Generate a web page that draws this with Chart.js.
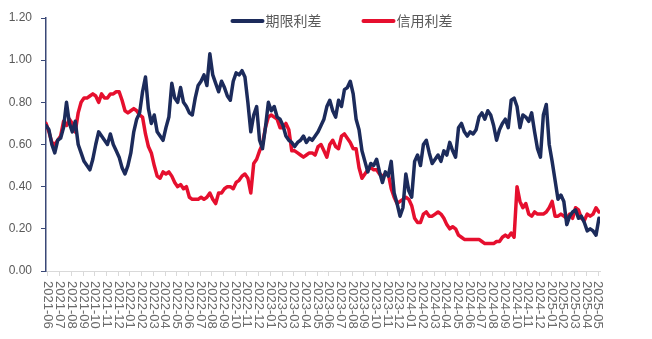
<!DOCTYPE html>
<html>
<head>
<meta charset="utf-8">
<script src="https://cdn.jsdelivr.net/npm/chart.js@4.4.1/dist/chart.umd.min.js"></script>
<style>
  html, body { margin: 0; padding: 0; background: #ffffff; }
  #wrap { width: 652px; height: 339px; }
</style>
</head>
<body>
<div id="wrap"><canvas id="chart" width="652" height="339"></canvas></div>
<script>
// Month tick labels along the bottom axis
const monthLabels = [
  '2021-06','2021-07','2021-08','2021-09','2021-10','2021-11','2021-12',
  '2022-01','2022-02','2022-03','2022-04','2022-05','2022-06','2022-07','2022-08','2022-09','2022-10','2022-11','2022-12',
  '2023-01','2023-02','2023-03','2023-04','2023-05','2023-06','2023-07','2023-08','2023-09','2023-10','2023-11','2023-12',
  '2024-01','2024-02','2024-03','2024-04','2024-05','2024-06','2024-07','2024-08','2024-09','2024-10','2024-11','2024-12',
  '2025-01','2025-02','2025-03','2025-04','2025-05'
];

// Weekly observations (4 per month), first one just before the 2021-06 tick
const firstWeek = -0.17;
const weekStep = 0.25;

// 期限利差 (term spread)
const termSpread = [
  0.69,0.67,0.60,0.56,0.62,0.63,0.68,0.80,0.70,0.66,
  0.71,0.60,0.56,0.52,0.50,0.48,0.53,0.60,0.66,0.64,
  0.62,0.60,0.65,0.60,0.57,0.54,0.49,0.46,0.50,0.56,
  0.66,0.72,0.75,0.85,0.92,0.77,0.70,0.74,0.66,0.64,
  0.62,0.68,0.73,0.89,0.82,0.80,0.87,0.80,0.78,0.75,
  0.74,0.82,0.88,0.90,0.93,0.88,1.03,0.93,0.89,0.85,
  0.90,0.87,0.83,0.81,0.90,0.94,0.93,0.95,0.92,0.80,
  0.66,0.74,0.78,0.62,0.58,0.68,0.80,0.76,0.78,0.73,
  0.72,0.69,0.64,0.62,0.61,0.59,0.61,0.62,0.64,0.61,
  0.63,0.62,0.64,0.66,0.69,0.72,0.78,0.81,0.76,0.73,
  0.81,0.78,0.86,0.87,0.90,0.84,0.72,0.67,0.57,0.52,
  0.47,0.51,0.50,0.53,0.47,0.42,0.47,0.45,0.52,0.37,
  0.32,0.26,0.30,0.46,0.38,0.35,0.52,0.55,0.50,0.60,
  0.62,0.56,0.51,0.53,0.55,0.52,0.57,0.55,0.61,0.57,
  0.54,0.68,0.70,0.66,0.64,0.66,0.65,0.67,0.73,0.75,
  0.72,0.76,0.74,0.69,0.62,0.67,0.70,0.72,0.68,0.81,
  0.82,0.78,0.68,0.74,0.73,0.71,0.75,0.66,0.58,0.54,
  0.74,0.79,0.60,0.52,0.43,0.34,0.36,0.33,0.22,0.26,
  0.28,0.29,0.25,0.26,0.23,0.19,0.20,0.19,0.17,0.25
];

// 信用利差 (credit spread)
const creditSpread = [
  0.70,0.66,0.61,0.60,0.62,0.64,0.71,0.69,0.72,0.70,
  0.66,0.75,0.80,0.82,0.82,0.83,0.84,0.83,0.80,0.84,
  0.82,0.82,0.84,0.84,0.85,0.85,0.81,0.76,0.75,0.76,
  0.77,0.76,0.74,0.73,0.65,0.59,0.56,0.50,0.45,0.44,
  0.47,0.46,0.47,0.45,0.42,0.40,0.41,0.39,0.40,0.35,
  0.34,0.34,0.34,0.35,0.34,0.35,0.37,0.34,0.32,0.37,
  0.37,0.39,0.40,0.40,0.39,0.42,0.43,0.45,0.46,0.44,
  0.37,0.51,0.53,0.57,0.60,0.68,0.73,0.74,0.73,0.72,
  0.68,0.68,0.70,0.67,0.57,0.57,0.56,0.55,0.54,0.55,
  0.56,0.56,0.55,0.59,0.60,0.57,0.54,0.60,0.62,0.59,
  0.58,0.64,0.65,0.63,0.61,0.58,0.58,0.49,0.44,0.46,
  0.48,0.49,0.48,0.48,0.46,0.45,0.46,0.46,0.39,0.35,
  0.32,0.33,0.34,0.35,0.34,0.31,0.25,0.23,0.23,0.27,
  0.28,0.26,0.26,0.27,0.28,0.27,0.25,0.22,0.20,0.21,
  0.20,0.17,0.16,0.15,0.15,0.15,0.15,0.15,0.15,0.14,
  0.13,0.13,0.13,0.13,0.14,0.14,0.16,0.17,0.16,0.18,
  0.16,0.40,0.33,0.30,0.32,0.27,0.26,0.28,0.27,0.27,
  0.27,0.28,0.30,0.33,0.26,0.26,0.27,0.26,0.25,0.27,
  0.25,0.30,0.29,0.25,0.24,0.27,0.26,0.27,0.30,0.28
];

const seriesNames = ['期限利差', '信用利差'];
const seriesColors = ['#1c2b5b', '#e60f2e'];

const yMin = 0, yMax = 1.2, yStep = 0.2;

function toPoints(values) {
  return values.map((v, i) => ({ x: firstWeek + i * weekStep, y: v }));
}

const textGray = '#595959';

// Month labels written top-to-bottom under each monthly tick
const verticalMonthLabels = {
  id: 'verticalMonthLabels',
  afterDraw(chart) {
    const xs = chart.scales.x;
    const ctx = chart.ctx;
    ctx.save();
    ctx.fillStyle = '#6a6a6a';
    ctx.font = '13px "Liberation Sans", Arial, sans-serif';
    ctx.textAlign = 'left';
    ctx.textBaseline = 'middle';
    monthLabels.forEach((lab, i) => {
      const px = xs.getPixelForValue(i);
      ctx.save();
      ctx.translate(px, xs.top + 10);
      ctx.rotate(Math.PI / 2);
      ctx.fillText(lab, 0, 0);
      ctx.restore();
    });
    ctx.restore();
  }
};

// Line-sample legend centred above the plot
const lineLegend = {
  id: 'lineLegend',
  afterDraw(chart) {
    const ctx = chart.ctx;
    const area = chart.chartArea;
    ctx.save();
    ctx.font = '14px "Noto Sans CJK SC", sans-serif';
    ctx.textBaseline = 'middle';
    const sample = 32, gapText = 2, gapItem = 41;
    const items = chart.data.datasets.map(ds => ({
      label: ds.label, color: ds.borderColor, w: sample + gapText + ctx.measureText(ds.label).width
    }));
    const total = items.reduce((s, it) => s + it.w, 0) + gapItem * (items.length - 1);
    let x = (area.left + area.right) / 2 + 19 - total / 2;
    const y = area.top + 3;
    items.forEach(it => {
      ctx.strokeStyle = it.color;
      ctx.lineWidth = 4;
      ctx.lineCap = 'round';
      ctx.beginPath();
      ctx.moveTo(x + 1, y);
      ctx.lineTo(x + sample - 1, y);
      ctx.stroke();
      ctx.fillStyle = textGray;
      ctx.fillText(it.label, x + sample + gapText, y);
      x += it.w + gapItem;
    });
    ctx.restore();
  }
};

new Chart(document.getElementById('chart'), {
  type: 'line',
  data: {
    datasets: [
      { label: seriesNames[0], data: toPoints(termSpread), borderColor: seriesColors[0], backgroundColor: seriesColors[0] },
      { label: seriesNames[1], data: toPoints(creditSpread), borderColor: seriesColors[1], backgroundColor: seriesColors[1] }
    ]
  },
  options: {
    responsive: false,
    animation: false,
    devicePixelRatio: 1,
    layout: { padding: { top: 18, right: 52, left: 0, bottom: 0 } },
    elements: {
      point: { radius: 0, hoverRadius: 0 },
      line: { borderWidth: 3.5, tension: 0, borderJoinStyle: 'round', borderCapStyle: 'round' }
    },
    plugins: {
      legend: { display: false },
      tooltip: { enabled: false }
    },
    scales: {
      x: {
        type: 'linear',
        min: -0.17,
        max: 47.17,
        afterBuildTicks(scale) {
          scale.ticks = monthLabels.map((_, i) => ({ value: i }));
        },
        afterFit(scale) { scale.height = 68; },
        ticks: { display: false },
        grid: { drawOnChartArea: false, drawTicks: true, tickLength: 5, color: '#d9d9d9' },
        border: { display: true, color: '#d9d9d9', width: 1 }
      },
      y: {
        min: yMin,
        max: yMax,
        afterFit(scale) { scale.width = 46; },
        ticks: {
          stepSize: yStep,
          padding: 9,
          color: textGray,
          font: { family: '"Liberation Sans", Arial, sans-serif', size: 12 },
          callback: v => Number(v).toFixed(2)
        },
        grid: { drawOnChartArea: false, drawTicks: true, tickLength: 5, color: '#3a4877' },
        border: { display: true, color: '#3a4877', width: 1.5 }
      }
    }
  },
  plugins: [verticalMonthLabels, lineLegend]
});
</script>
</body>
</html>
